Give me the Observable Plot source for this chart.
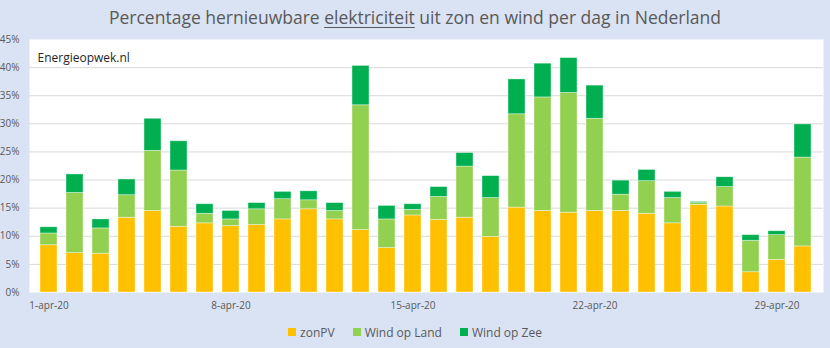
<!DOCTYPE html>
<html><head><meta charset="utf-8">
<script src="https://cdn.jsdelivr.net/npm/d3@7"></script>
<script src="https://cdn.jsdelivr.net/npm/@observablehq/plot@0.6"></script>
<style>
html,body{margin:0;padding:0;background:#dae3f3;}
#wrap{position:relative;width:830px;height:348px;background:#dae3f3;overflow:hidden;font-family:"Open Sans",sans-serif;}
#title{position:absolute;left:0;top:4px;width:830px;text-align:center;font-size:17.5px;line-height:26px;color:#595959;}
#title u{text-decoration-thickness:1px;text-underline-offset:3px;}
#chart{position:absolute;left:0;top:30px;}
#legend{position:absolute;left:0;top:322px;width:830px;height:20px;display:flex;justify-content:center;align-items:center;font-size:12px;color:#595959;}
#legend .item{display:flex;align-items:center;margin:0 9px;}
#legend .sw{width:8px;height:8px;margin-right:4px;}
</style>
</head><body>
<div id="wrap">
  <div id="title">Percentage hernieuwbare <u>elektriciteit</u> uit zon en wind per dag in Nederland</div>
  <div id="chart"></div>
  <div id="legend"></div>
</div>
<script>
const days = ["1-apr-20","2-apr-20","3-apr-20","4-apr-20","5-apr-20","6-apr-20","7-apr-20","8-apr-20","9-apr-20","10-apr-20",
  "11-apr-20","12-apr-20","13-apr-20","14-apr-20","15-apr-20","16-apr-20","17-apr-20","18-apr-20","19-apr-20","20-apr-20",
  "21-apr-20","22-apr-20","23-apr-20","24-apr-20","25-apr-20","26-apr-20","27-apr-20","28-apr-20","29-apr-20","30-apr-20"];
const zonPV    = [8.4, 7.0, 6.9, 13.3, 14.5, 11.7, 12.3, 11.8, 12.0, 13.0, 14.8, 13.0, 11.1, 7.9, 13.7, 12.9, 13.3, 9.9, 15.1, 14.5, 14.2, 14.5, 14.5, 14.0, 12.3, 15.6, 15.3, 3.6, 5.8, 8.2];
const windLand = [2.1, 10.7, 4.5, 4.0, 10.7, 10.0, 1.7, 1.2, 2.8, 3.6, 1.6, 1.5, 22.2, 5.1, 1.0, 4.1, 9.1, 6.9, 16.6, 20.2, 21.3, 16.4, 2.9, 5.8, 4.5, 0.3, 3.45, 5.6, 4.4, 15.8];
const windZee  = [1.1, 3.3, 1.6, 2.8, 5.7, 5.2, 1.7, 1.5, 1.1, 1.3, 1.6, 1.4, 7.0, 2.4, 1.0, 1.75, 2.4, 3.9, 6.2, 6.0, 6.2, 5.9, 2.5, 2.0, 1.1, 0.2, 1.75, 1.0, 0.7, 5.9];
const tickLabels = ["1-apr-20","8-apr-20","15-apr-20","22-apr-20","29-apr-20"];
const yTicks = [0,5,10,15,20,25,30,35,40,45];
const gridTicks = [5,10,15,20,25,30,35,40];
const seriesNames = ["zonPV","Wind op Land","Wind op Zee"];
const seriesColors = ["#FFC000","#92D050","#00B050"];
const seriesValues = [zonPV, windLand, windZee];

const rows = [];
days.forEach((d, i) => {
  seriesNames.forEach((s, j) => rows.push({day: d, series: s, value: seriesValues[j][i]}));
});

const chart = Plot.plot({
  width: 830,
  height: 290,
  marginLeft: 29,
  marginRight: 7,
  marginTop: 9,
  marginBottom: 28,
  style: {fontFamily: "'Open Sans', sans-serif", fontSize: "10px", color: "#595959", background: "transparent", overflow: "visible"},
  x: {type: "band", domain: days, paddingInner: 0.335, paddingOuter: 0.167, label: null},
  y: {domain: [0, 45], label: null},
  color: {domain: seriesNames, range: seriesColors},
  marks: [
    Plot.frame({fill: "white", stroke: "none"}),
    Plot.ruleY(gridTicks, {stroke: "#d9d9d9", strokeWidth: 1}),
    Plot.barY(rows, {x: "day", y: "value", fill: "series", stroke: "white", strokeOpacity: 0.5, strokeWidth: 0.75}),
    Plot.axisY({ticks: yTicks, tickFormat: d => d + "%", tickSize: 0, tickPadding: 10, fontSize: 10, color: "#595959"}),
    Plot.axisX({ticks: tickLabels, tickSize: 0, tickPadding: 9, fontSize: 10, color: "#595959"}),
    Plot.text(["Energieopwek.nl"], {frameAnchor: "top-left", dx: 8, dy: 14, textAnchor: "start", fontSize: 12, fill: "#262626"})
  ]
});
document.getElementById("chart").appendChild(chart);

const legend = document.getElementById("legend");
seriesNames.forEach((s, j) => {
  const item = document.createElement("div");
  item.className = "item";
  const sw = document.createElement("div");
  sw.className = "sw";
  sw.style.background = seriesColors[j];
  const t = document.createElement("span");
  t.textContent = s;
  item.appendChild(sw);
  item.appendChild(t);
  legend.appendChild(item);
});
</script>
</body></html>
